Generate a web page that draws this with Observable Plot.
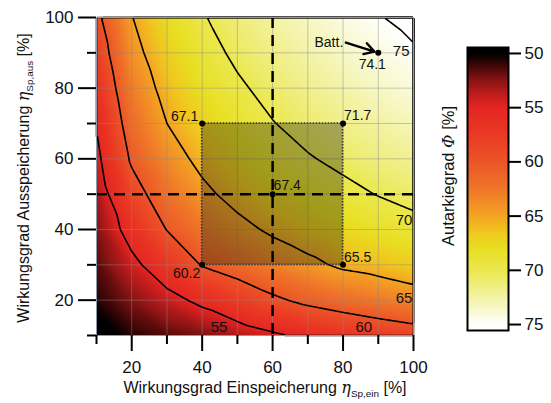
<!DOCTYPE html>
<html><head><meta charset="utf-8">
<script src="https://cdn.jsdelivr.net/npm/d3@7"></script>
<script src="https://cdn.jsdelivr.net/npm/@observablehq/plot@0.6"></script>
<style>
body{margin:0;background:#fff;}
#wrap{position:relative;width:551px;height:403px;font-family:"Liberation Sans",Arial,sans-serif;}
#wrap svg{position:absolute;top:0;}
</style></head><body><div id="wrap"></div>
<script>
// Data (grid of Autarkiegrad values, %)
const etaIn = [10, 20, 30, 40, 50, 60, 70, 80, 90, 100];   // Einspeicherung (x)
const etaOut = [10, 20, 30, 40, 50, 60, 70, 80, 90, 100];  // Ausspeicherung (y)
const phi = [ // rows: etaOut 10..100, columns: etaIn 10..100
  [49.0, 50.6, 51.5, 52.2, 53.3, 54.5, 55.6, 56.6, 57.5, 58.3],
  [50.6, 52.4, 54.0, 55.7, 57.6, 59.4, 60.8, 61.8, 62.7, 63.5],
  [51.5, 54.2, 57.0, 60.2, 61.6, 63.1, 64.3, 65.5, 66.1, 66.9],
  [52.3, 56.3, 60.1, 62.4, 64.1, 65.5, 66.6, 67.5, 68.4, 69.1],
  [53.2, 58.5, 62.1, 64.3, 66.0, 67.4, 68.3, 69.3, 70.1, 70.8],
  [54.2, 60.5, 63.6, 65.8, 67.4, 68.7, 69.8, 70.6, 71.4, 72.0],
  [55.2, 61.8, 65.0, 67.1, 68.6, 69.9, 70.9, 71.7, 72.4, 73.1],
  [56.5, 62.9, 66.0, 68.1, 69.6, 70.8, 71.8, 72.6, 73.4, 74.0],
  [57.8, 64.0, 66.9, 69.0, 70.5, 71.6, 72.6, 73.4, 74.1, 74.8],
  [59.2, 64.9, 67.8, 69.8, 71.2, 72.4, 73.3, 74.2, 74.9, 75.5]
];
const contourLevels = [55, 60, 65, 70, 75];
const contourLabelIn = [44.8, 85.9, 97.3, 97.3, 96.5];
const contourLabelOut = [12.3, 12.3, 20.6, 42.5, 90.4];
const colorTicks = [50, 55, 60, 65, 70, 75];
const axisMajor = [20, 40, 60, 80, 100];
const axisMinor = [10, 30, 50, 70, 90];
const gridLines = [10, 20, 30, 40, 50, 60, 70, 80, 90, 100];
const markedIn = [40, 40, 80, 80, 60, 90];
const markedOut = [30, 70, 70, 30, 50, 90];
const markedVal = ["60.2", "67.1", "71.7", "65.5", "67.4", "74.1"];
const refIn = [60];
const refOut = [50];
const boxIn = [40, 80];
const boxOut = [30, 70];
const battLabel = "Batt.";
const battArrowStart = [80.8, 92.9];
const colorStops = [50, 51, 52.5, 54, 55, 57.5, 60, 62.5, 65, 66.5, 68, 70, 72.5, 75];
const colorHex = ["#000000", "#3a0606", "#8a1414", "#c81e1e", "#e42622", "#ea3a24", "#ec5527", "#ef7628", "#f4a424", "#f0c81e", "#e8df22", "#ebe84e", "#f3f3a6", "#ffffff"];

const grid = etaOut.flatMap((o, j) => etaIn.map((e, k) => ({ein: e, aus: o, phi: phi[j][k]})));
const points = markedIn.map((e, i) => ({ein: e, aus: markedOut[i], label: markedVal[i]}));
const clabels = contourLevels.map((v, i) => ({ein: contourLabelIn[i], aus: contourLabelOut[i], label: String(v)}));
const colorOpts = {type: "linear", domain: colorStops, range: colorHex, clamp: true};
const font = "'Liberation Sans', Arial, sans-serif";
const lab = (i, o) => Plot.text([points[i]], {x: "ein", y: "aus", text: "label", fontSize: 14, fill: "#111", ...o});

const main = Plot.plot({
  width: 551, height: 403,
  marginLeft: 96, marginRight: 138, marginTop: 17, marginBottom: 68,
  style: {fontFamily: font, background: "transparent", overflow: "visible"},
  x: {domain: [10, 100]},
  y: {domain: [10, 100]},
  color: colorOpts,
  marks: [
    Plot.raster(grid, {x: "ein", y: "aus", fill: "phi", interpolate: "barycentric", x1: 10, x2: 100, y1: 10, y2: 100}),
    Plot.gridX(gridLines, {stroke: "#8a8a8a", strokeOpacity: 0.45, strokeWidth: 1}),
    Plot.gridY(gridLines, {stroke: "#8a8a8a", strokeOpacity: 0.45, strokeWidth: 1}),
    Plot.rect([{}], {x1: () => boxIn[0], x2: () => boxIn[1], y1: () => boxOut[0], y2: () => boxOut[1], fill: "#2a2a10", fillOpacity: 0.37}),
    Plot.contour(grid, {x: "ein", y: "aus", value: "phi", interpolate: "barycentric", thresholds: contourLevels, stroke: "black", strokeWidth: 1.6, fill: "none", x1: 10, x2: 100, y1: 10, y2: 100}),
    Plot.rect([{}], {x1: () => boxIn[0], x2: () => boxIn[1], y1: () => boxOut[0], y2: () => boxOut[1], fill: "none", stroke: "#333", strokeWidth: 1.6, strokeDasharray: "1.5,1.5"}),
    Plot.ruleX(refIn, {stroke: "black", strokeWidth: 2.5, strokeDasharray: "11,7"}),
    Plot.ruleY(refOut, {stroke: "black", strokeWidth: 2.5, strokeDasharray: "11,7"}),
    Plot.dot(points, {x: "ein", y: "aus", r: 3, fill: "black"}),
    Plot.arrow([{}], {x1: () => battArrowStart[0], y1: () => battArrowStart[1], x2: () => markedIn[5], y2: () => markedOut[5], insetEnd: 4, stroke: "black", strokeWidth: 2.4, headLength: 9}),
    Plot.text([points[5]], {x: "ein", y: "aus", text: () => battLabel, textAnchor: "end", dx: -35, dy: -10, fontSize: 14, fill: "#111"}),
    lab(0, {textAnchor: "end", dx: -2, dy: 9}),
    lab(1, {textAnchor: "end", dx: -4, dy: -7}),
    lab(2, {textAnchor: "start", dx: 1, dy: -8}),
    lab(3, {textAnchor: "start", dx: 1, dy: -7}),
    lab(4, {textAnchor: "start", dx: 1, dy: -9}),
    lab(5, {textAnchor: "middle", dx: -6, dy: 12}),
    Plot.text(clabels, {x: "ein", y: "aus", text: "label", fontSize: 15, fill: "#111"}),
    Plot.frame({stroke: "#8a9aa8", strokeWidth: 1}),
    Plot.axisX(axisMajor, {tickSize: 16, tickPadding: 9, fontSize: 17, strokeWidth: 2, label: null, fill: "#111"}),
    Plot.axisX(axisMinor, {tickSize: 9, tickFormat: () => "", strokeWidth: 2, label: null}),
    Plot.axisY(axisMajor, {tickSize: 18, tickPadding: 5, fontSize: 17, strokeWidth: 2, label: null, fill: "#111"}),
    Plot.axisY(axisMinor, {tickSize: 9, tickFormat: () => "", strokeWidth: 2, label: null})
  ]
});
main.style.left = "0px";

const cb = Plot.plot({
  width: 121, height: 403,
  marginLeft: 37, marginRight: 43, marginTop: 47, marginBottom: 73,
  style: {fontFamily: font, background: "transparent", overflow: "visible"},
  x: {domain: [0, 1], axis: null},
  y: {domain: [49.45, 75.55], reverse: true, axis: null},
  color: colorOpts,
  marks: [
    Plot.raster({fill: (x, y) => y, x1: 0, x2: 1, y1: 49.45, y2: 75.55}),
    Plot.frame({stroke: "black", strokeWidth: 2}),
    Plot.axisY(colorTicks, {anchor: "right", tickSize: 12, tickPadding: 4, fontSize: 17, strokeWidth: 2, label: null, fill: "#111"})
  ]
});
cb.style.left = "430px";

const wrap = document.getElementById("wrap");
wrap.appendChild(main);
wrap.appendChild(cb);

// Axis titles with subscripts / italics
function title(svg, x, y, rot, parts, size) {
  const t = d3.select(svg).append("text")
    .attr("transform", `translate(${x},${y}) rotate(${rot})`)
    .attr("text-anchor", "middle").attr("font-size", size).attr("fill", "#111")
    .attr("font-family", font);
  parts.forEach(p => {
    const s = t.append("tspan").text(p.t);
    if (p.it) s.attr("font-style", "italic").attr("font-family", "'DejaVu Serif', serif");
    if (p.sub) s.attr("dy", p.sub);
    if (p.sub > 0) s.attr("font-size", size * 0.62);
  });
}
title(main, 265, 393, 0, [
  {t: "Wirkungsgrad Einspeicherung "}, {t: "η", it: true}, {t: "Sp,ein", sub: 4}, {t: " [%]", sub: -4}
], 16);
title(main, 29, 178, -90, [
  {t: "Wirkungsgrad Ausspeicherung "}, {t: "η", it: true}, {t: "Sp,aus", sub: 4}, {t: " [%]", sub: -4}
], 16);
title(cb, 24, 176, -90, [
  {t: "Autarkiegrad "}, {t: "Φ", it: true}, {t: " [%]"}
], 16.5);
</script></body></html>
